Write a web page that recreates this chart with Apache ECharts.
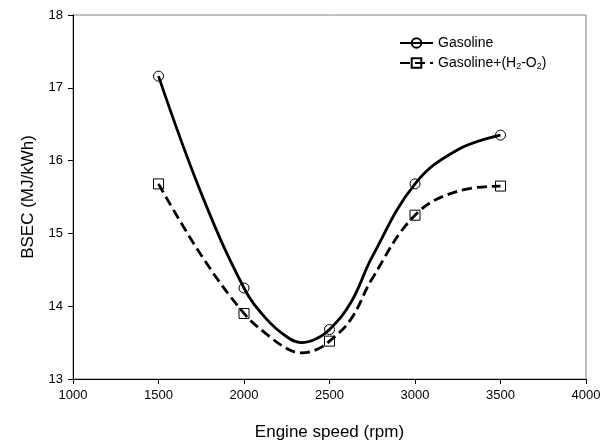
<!DOCTYPE html>
<html>
<head>
<meta charset="utf-8">
<script src="https://cdn.jsdelivr.net/npm/echarts@6/dist/echarts.min.js"></script>
<style>
  html, body { margin: 0; padding: 0; background: #fff; }
  #chart { width: 611px; height: 446px; }
</style>
</head>
<body>
<div id="chart"></div>
<script>
// measured points
var speeds = [1500, 2000, 2500, 3000, 3500]
var gasoline = [17.16, 14.25, 13.68, 15.68, 16.35]
var gasolineH2 = [15.68, 13.90, 13.52, 15.25, 15.65]

// extra points
var curveSpeeds = [1750, 2125, 2250, 2335, 2420, 2625, 2750, 3250]
var gasolineCurve = [15.55, 13.84, 13.58, 13.50, 13.55, 14.05, 14.68, 16.15]
var gasolineH2Curve = [14.70, 13.63, 13.42, 13.36, 13.40, 13.82, 14.38, 15.58]

var xTicks = [1000, 1500, 2000, 2500, 3000, 3500, 4000]
var yTicks = [13, 14, 15, 16, 17, 18]

function buildData (measured, curve, symbol) {
  var pts = []
  for (var i = 0; i < speeds.length; i++) {
    pts.push({ value: [speeds[i], measured[i]], symbol: symbol })
  }
  for (var j = 0; j < curveSpeeds.length; j++) {
    pts.push({ value: [curveSpeeds[j], curve[j]], symbol: 'none' })
  }
  pts.sort(function (a, b) { return a.value[0] - b.value[0] })
  return pts
}

var font = 'Liberation Sans, Arial, sans-serif'
var myChart = echarts.init(document.getElementById('chart'))

var option = {
  animation: false,
  textStyle: { fontFamily: font, color: '#000' },
  grid: {
    left: 73, right: 25, top: 15, bottom: 64,
    show: true, borderColor: '#808080', borderWidth: 1
  },
  legend: {
    orient: 'vertical',
    left: 394,
    top: 31,
    itemWidth: 33,
    itemHeight: 12,
    itemGap: 6,
    textStyle: {
      fontFamily: font, fontSize: 14, color: '#000',
      rich: {
        sub: { fontFamily: font, fontSize: 9, color: '#000', padding: [7, 0, 0, 0] }
      }
    },
    formatter: function (name) {
      if (name === 'Gasoline') return 'Gasoline'
      return 'Gasoline+(H{sub|2}-O{sub|2})'
    },
    data: ['Gasoline', 'Gasoline+(H2-O2)']
  },
  xAxis: {
    type: 'value',
    min: xTicks[0],
    max: xTicks[xTicks.length - 1],
    interval: 500,
    name: 'Engine speed (rpm)',
    nameLocation: 'middle',
    nameGap: 45,
    nameTextStyle: { fontFamily: font, fontSize: 17, color: '#000' },
    axisLine: { lineStyle: { color: '#000', width: 1 } },
    axisTick: { inside: false, length: 5, lineStyle: { color: '#000' } },
    axisLabel: {
      fontFamily: font, fontSize: 13, color: '#000', margin: 10,
      formatter: function (v) { return String(v) }
    },
    splitLine: { show: false }
  },
  yAxis: {
    type: 'value',
    min: yTicks[0],
    max: yTicks[yTicks.length - 1],
    interval: 1,
    name: 'BSEC (MJ/kWh)',
    nameLocation: 'middle',
    nameGap: 36,
    nameTextStyle: { fontFamily: font, fontSize: 17, color: '#000' },
    axisLine: { show: true, lineStyle: { color: '#000', width: 1 } },
    axisTick: { show: true, inside: false, length: 5, lineStyle: { color: '#000' } },
    axisLabel: { fontFamily: font, fontSize: 13, color: '#000', margin: 10 },
    splitLine: { show: false }
  },
  series: [
    {
      name: 'Gasoline',
      type: 'line',
      smooth: 0.4,
      data: buildData(gasoline, gasolineCurve, 'circle'),
      symbol: 'circle',
      symbolSize: 10,
      showAllSymbol: true,
      lineStyle: { color: '#000', width: 2.8 },
      itemStyle: { color: 'rgba(255,255,255,0)', borderColor: '#000', borderWidth: 1 }
    },
    {
      name: 'Gasoline+(H2-O2)',
      type: 'line',
      smooth: 0.4,
      data: buildData(gasolineH2, gasolineH2Curve, 'rect'),
      symbol: 'rect',
      symbolSize: 10,
      showAllSymbol: true,
      lineStyle: { color: '#000', width: 2.8, type: [10, 5] },
      itemStyle: { color: 'rgba(255,255,255,0)', borderColor: '#000', borderWidth: 1 }
    }
  ]
}

myChart.setOption(option, true)
</script>
</body>
</html>
